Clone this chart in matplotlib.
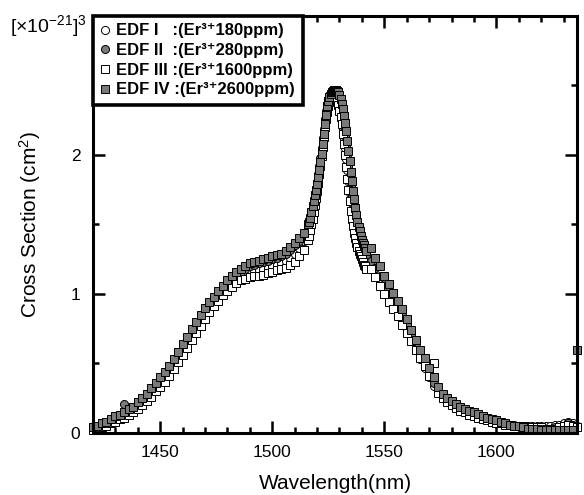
import numpy as np
import matplotlib
matplotlib.use("Agg")
import matplotlib.pyplot as plt
from matplotlib.ticker import MultipleLocator

plt.rcParams.update({
    "font.family": ["Liberation Sans", "DejaVu Sans"],
    "mathtext.default": "regular",
})

# wavelength grid (nm): 2 nm steps, 0.5 nm steps around the peak, 2 nm steps again
wl_low = np.arange(1420, 1517, 2)          # 1420 .. 1516
wl_peak = np.arange(1516.5, 1542.01, 0.5)  # 1516.5 .. 1542
wl_high = np.arange(1544, 1637, 2)         # 1544 .. 1636
wavelength = np.concatenate([wl_low, wl_peak, wl_high])

# cross section [x1e-21 cm^2]
edf1 = (
    [0.03, 0.04, 0.05, 0.06, 0.08, 0.09, 0.11, 0.12, 0.14, 0.16, 0.19, 0.22, 0.25,
     0.28, 0.32, 0.36, 0.40, 0.44, 0.49, 0.54, 0.59, 0.64, 0.70, 0.75, 0.80, 0.85,
     0.90, 0.94, 0.98, 1.02, 1.05, 1.08, 1.11, 1.13, 1.14, 1.15, 1.16, 1.17, 1.18,
     1.19, 1.20, 1.21, 1.22, 1.24, 1.26, 1.29, 1.33, 1.38, 1.44]
    + [1.47, 1.50, 1.54, 1.58, 1.62, 1.67, 1.72, 1.77, 1.82, 1.88, 1.94, 2.00, 2.07,
       2.14, 2.21, 2.27, 2.32, 2.36, 2.39, 2.41, 2.43, 2.44, 2.44, 2.44, 2.43, 2.41,
       2.38, 2.34, 2.30, 2.25, 2.19, 2.12, 2.05, 1.97, 1.89, 1.81, 1.73, 1.66, 1.60,
       1.55, 1.50, 1.46, 1.42, 1.39, 1.36, 1.34, 1.32, 1.30, 1.28, 1.26, 1.25, 1.23]
    + [1.19, 1.13, 1.08, 1.02, 0.97, 0.92, 0.86, 0.80, 0.74, 0.67, 0.60, 0.53, 0.47,
       0.40, 0.34, 0.29, 0.25, 0.22, 0.20, 0.18, 0.16, 0.15, 0.13, 0.12, 0.11, 0.10,
       0.09, 0.08, 0.08, 0.07, 0.07, 0.06, 0.06, 0.05, 0.05, 0.05, 0.05, 0.05, 0.05,
       0.05, 0.05, 0.06, 0.06, 0.07, 0.08, 0.07, 0.05]
)
edf2 = (
    [0.04, 0.05, 0.06, 0.08, 0.09, 0.11, 0.12, 0.21, 0.16, 0.18, 0.21, 0.24, 0.27,
     0.31, 0.35, 0.39, 0.43, 0.47, 0.52, 0.57, 0.62, 0.67, 0.73, 0.78, 0.83, 0.88,
     0.92, 0.96, 1.00, 1.04, 1.08, 1.11, 1.14, 1.16, 1.18, 1.20, 1.21, 1.22, 1.23,
     1.24, 1.25, 1.26, 1.27, 1.29, 1.32, 1.35, 1.38, 1.42, 1.48]
    + [1.51, 1.54, 1.58, 1.62, 1.66, 1.70, 1.75, 1.80, 1.86, 1.92, 1.98, 2.05, 2.12,
       2.19, 2.26, 2.32, 2.37, 2.40, 2.43, 2.44, 2.45, 2.46, 2.46, 2.46, 2.45, 2.44,
       2.42, 2.39, 2.35, 2.31, 2.26, 2.20, 2.14, 2.07, 2.00, 1.92, 1.85, 1.78, 1.71,
       1.65, 1.59, 1.54, 1.50, 1.46, 1.43, 1.40, 1.38, 1.36, 1.34, 1.32, 1.30, 1.28]
    + [1.24, 1.19, 1.13, 1.07, 1.02, 0.96, 0.91, 0.85, 0.78, 0.71, 0.64, 0.57, 0.50,
       0.43, 0.36, 0.30, 0.26, 0.23, 0.20, 0.18, 0.16, 0.15, 0.13, 0.12, 0.11, 0.10,
       0.09, 0.08, 0.07, 0.07, 0.06, 0.06, 0.05, 0.05, 0.04, 0.04, 0.04, 0.04, 0.03,
       0.03, 0.03, 0.04, 0.04, 0.05, 0.07, 0.06, 0.04]
)
edf3 = (
    [0.02, 0.03, 0.04, 0.05, 0.07, 0.08, 0.10, 0.11, 0.13, 0.15, 0.17, 0.20, 0.23,
     0.26, 0.30, 0.33, 0.37, 0.41, 0.46, 0.51, 0.56, 0.61, 0.67, 0.72, 0.77, 0.82,
     0.87, 0.91, 0.95, 0.99, 1.02, 1.05, 1.08, 1.10, 1.11, 1.12, 1.13, 1.13, 1.14,
     1.15, 1.16, 1.17, 1.18, 1.19, 1.21, 1.23, 1.27, 1.32, 1.39]
    + [1.42, 1.46, 1.50, 1.54, 1.59, 1.64, 1.69, 1.74, 1.80, 1.86, 1.92, 1.99, 2.06,
       2.13, 2.20, 2.26, 2.31, 2.35, 2.38, 2.40, 2.42, 2.43, 2.43, 2.42, 2.41, 2.39,
       2.36, 2.32, 2.27, 2.22, 2.15, 2.08, 2.00, 1.91, 1.83, 1.75, 1.67, 1.60, 1.54,
       1.49, 1.44, 1.40, 1.37, 1.34, 1.31, 1.29, 1.27, 1.25, 1.23, 1.21, 1.20, 1.18]
    + [1.18, 1.12, 1.06, 1.00, 0.94, 0.89, 0.84, 0.78, 0.72, 0.66, 0.60, 0.54, 0.48,
       0.41, 0.50, 0.29, 0.25, 0.22, 0.20, 0.18, 0.16, 0.15, 0.13, 0.12, 0.11, 0.10,
       0.09, 0.08, 0.07, 0.07, 0.06, 0.06, 0.05, 0.05, 0.05, 0.04, 0.04, 0.04, 0.04,
       0.03, 0.03, 0.03, 0.04, 0.05, 0.06, 0.05, 0.04]
)
edf4 = (
    [0.04, 0.05, 0.07, 0.08, 0.10, 0.12, 0.13, 0.15, 0.17, 0.19, 0.22, 0.25, 0.28,
     0.32, 0.36, 0.40, 0.44, 0.48, 0.53, 0.58, 0.64, 0.69, 0.75, 0.80, 0.85, 0.90,
     0.94, 0.98, 1.02, 1.06, 1.10, 1.13, 1.16, 1.18, 1.20, 1.22, 1.23, 1.24, 1.25,
     1.26, 1.27, 1.28, 1.29, 1.31, 1.34, 1.37, 1.40, 1.44, 1.50]
    + [1.52, 1.55, 1.59, 1.63, 1.67, 1.71, 1.75, 1.79, 1.84, 1.89, 1.95, 2.01, 2.08,
       2.15, 2.22, 2.29, 2.35, 2.39, 2.42, 2.44, 2.45, 2.46, 2.47, 2.47, 2.47, 2.46,
       2.45, 2.43, 2.40, 2.37, 2.33, 2.28, 2.23, 2.17, 2.10, 2.03, 1.96, 1.88, 1.81,
       1.74, 1.68, 1.62, 1.57, 1.52, 1.48, 1.45, 1.42, 1.39, 1.37, 1.35, 1.33, 1.31]
    + [1.33, 1.26, 1.20, 1.13, 1.07, 1.01, 0.95, 0.89, 0.82, 0.74, 0.67, 0.60, 0.54,
       0.47, 0.40, 0.33, 0.28, 0.25, 0.23, 0.21, 0.19, 0.17, 0.16, 0.15, 0.14, 0.12,
       0.11, 0.10, 0.09, 0.08, 0.07, 0.06, 0.05, 0.05, 0.04, 0.03, 0.03, 0.03, 0.02,
       0.02, 0.02, 0.02, 0.02, 0.02, 0.02, 0.02, 0.60]
)

series = [
    (edf1, "o", "white", "EDF I   :(Er\u00b3\u207a180ppm)"),
    (edf2, "o", "#7a7a7a", "EDF II  :(Er\u00b3\u207a280ppm)"),
    (edf3, "s", "white", "EDF III :(Er\u00b3\u207a1600ppm)"),
    (edf4, "s", "#7a7a7a", "EDF IV :(Er\u00b3\u207a2600ppm)"),
]

fig = plt.figure(figsize=(5.84, 4.95), dpi=100)
ax = fig.add_axes([0.1592, 0.1253, 0.8288, 0.8424])

for values, marker, face, label in series:
    ax.plot(wavelength, values, linestyle="none", marker=marker, markersize=5.8,
            markerfacecolor=face, markeredgecolor="black", markeredgewidth=0.7,
            label=label, clip_on=False)

ax.set_xlim(1420, 1636)
ax.set_ylim(0, 3)
ax.xaxis.set_major_locator(MultipleLocator(50))
ax.xaxis.set_minor_locator(MultipleLocator(10))
ax.set_yticks([0, 1, 2, 3])
ax.set_yticklabels(["0", "1", "2", ""])
ax.yaxis.set_minor_locator(MultipleLocator(0.5))

ax.tick_params(which="both", direction="in", top=True, right=True, width=1.8,
               labelsize=12.5, pad=9)
ax.tick_params(which="major", length=8.5)
ax.tick_params(which="minor", length=4.3)
for sp in ax.spines.values():
    sp.set_linewidth(2.2)

ax.set_xlabel("Wavelength(nm)", fontsize=15, labelpad=10)
ax.set_ylabel("Cross Section (cm$^2$)", fontsize=15, labelpad=20)
ax.text(-0.012, 0.975, "[\u00d710$^{-21}$]$^3$", transform=ax.transAxes,
        ha="right", va="center", fontsize=14)

leg = ax.legend(loc="upper left", bbox_to_anchor=(0, 1), borderaxespad=0,
                frameon=True, fancybox=False, handlelength=0.5, handletextpad=0.45,
                labelspacing=0.28, borderpad=0.45, prop={"weight": "bold", "size": 12})
leg.get_frame().set_edgecolor("black")
leg.get_frame().set_linewidth(2.6)
leg.get_frame().set_alpha(1)

fig.savefig("out.png", dpi=100)
